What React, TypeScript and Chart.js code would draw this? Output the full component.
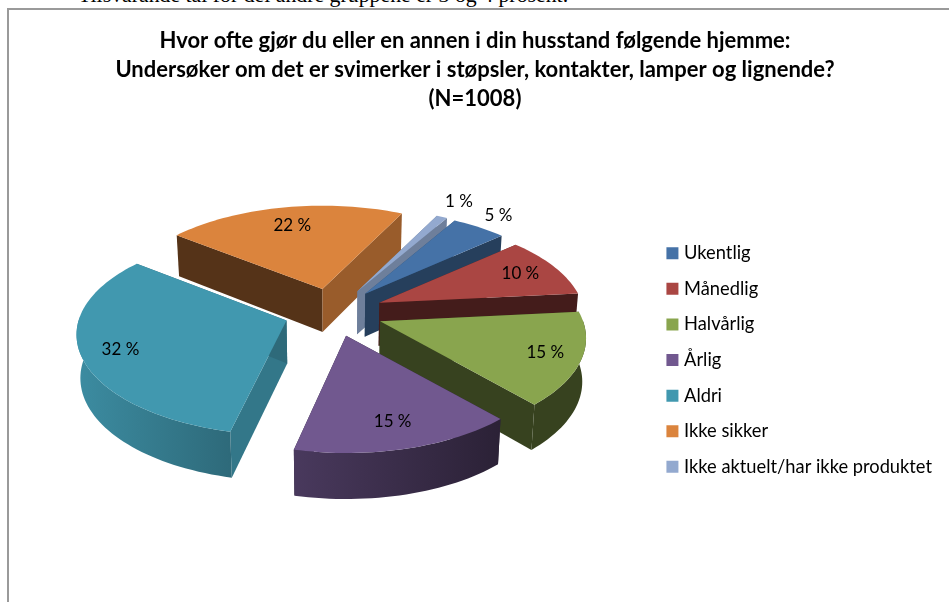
import React, { useEffect, useRef } from "react";
import { Chart, registerables } from "chart.js";

Chart.register(...registerables);

const categories = ["Ukentlig", "Månedlig", "Halvårlig", "Årlig", "Aldri", "Ikke sikker", "Ikke aktuelt/har ikke produktet"];
const shares = [5, 10, 15, 15, 32, 22, 1];
const sliceColors = ["#4572A7", "#AA4643", "#89A54E", "#71588F", "#4198AF", "#DB843D", "#93A9CF"];
const titleLines = [
  "Hvor ofte gjør du eller en annen i din husstand følgende hjemme:",
  "Undersøker om det er svimerker i støpsler, kontakter, lamper og lignende?",
  "(N=1008)",
];
const noteAbove = "Tilsvarande tal for dei andre gruppene er 3 og 4 prosent.";

// Styling of the 3D look (not data)
const startWallShade = [0.7, 0.5, 0.4, 0.4, 0.78, 0.39, 0.75];
const endWallShade = [0.55, 0.4, 0.4, 0.4, 0.7, 0.7, 0.75];
const rimShadeLeft = [0.5, 0.4, 0.4, 0.65, 0.92, 0.5, 0.7];
const rimShadeRight = [0.5, 0.4, 0.4, 0.38, 0.7, 0.5, 0.7];
const labelReach = [1.17, 0.81, 0.82, 0.76, 0.82, 0.78, 1.2];
const rimNudgeX = [0, 0, 0, 0, -4, 0, 0];
const rimNudgeY = [0, 0, 0, 0, -3, 0, 0];
const paintOrder = [5, 6, 0, 1, 4, 2, 3];

const CANVAS_X = 8;
const CANVAS_Y = 9;
const VIEW = { cx: 333.5 - CANVAS_X, cy: 312.4 - CANVAS_Y, radius: 203, squash: 0.48, perspective: 0.17, explode: 50, height: 43, heightGrow: 3, shrink: 0.985 };

type Pt = { x: number; y: number };

const shade = (hex: string, f: number) => {
  const n = parseInt(hex.slice(1), 16);
  const c = [(n >> 16) & 255, (n >> 8) & 255, n & 255].map((v) => Math.round(v * f));
  return `rgb(${c[0]},${c[1]},${c[2]})`;
};

const apexOf = (mid: number): Pt => ({
  x: VIEW.cx + VIEW.explode * Math.cos(mid),
  y: VIEW.cy + VIEW.explode * VIEW.squash * Math.sin(mid),
});

const rimOf = (apex: Pt, a: number, reach = 1): Pt => {
  const s = 1 / (1 - VIEW.perspective * Math.sin(a));
  return {
    x: apex.x + reach * VIEW.radius * Math.cos(a) * s,
    y: apex.y + reach * VIEW.radius * VIEW.squash * Math.sin(a) * s,
  };
};

const down = (p: Pt, a: number): Pt => ({
  x: VIEW.cx + (p.x - VIEW.cx) * VIEW.shrink,
  y: p.y + VIEW.height + VIEW.heightGrow * Math.sin(a),
});

const fillPoly = (ctx: CanvasRenderingContext2D, pts: Pt[], fill: string | CanvasGradient) => {
  ctx.beginPath();
  pts.forEach((p, i) => (i ? ctx.lineTo(p.x, p.y) : ctx.moveTo(p.x, p.y)));
  ctx.closePath();
  ctx.fillStyle = fill;
  ctx.fill();
};

const pie3d = {
  id: "pie3d",
  beforeDatasetDraw(chart: any) {
    const ctx: CanvasRenderingContext2D = chart.ctx;
    const arcs = chart.getDatasetMeta(0).data;
    ctx.save();
    paintOrder.forEach((i) => {
      const arc = arcs[i];
      const a0: number = arc.startAngle;
      const a1: number = arc.endAngle;
      const apex = apexOf((a0 + a1) / 2);
      const steps = Math.max(2, Math.ceil((a1 - a0) / 0.03));
      const angles = Array.from({ length: steps + 1 }, (_, k) => a0 + ((a1 - a0) * k) / steps);
      const rim = angles.map((a) => {
        const p = rimOf(apex, a);
        return { x: p.x + rimNudgeX[i], y: p.y + rimNudgeY[i] };
      });
      const rimDown = rim.map((p, k) => down(p, angles[k]));
      const color = arc.options.backgroundColor as string;
      const apexDown = down(apex, 0);

      fillPoly(ctx, [apex, rim[0], rimDown[0], apexDown], shade(color, startWallShade[i]));
      fillPoly(ctx, [apex, rim[steps], rimDown[steps], apexDown], shade(color, endWallShade[i]));

      // only the part of the rim that faces the viewer
      const front = angles.map((a) => Math.sin(a) >= -0.02);
      const rimF = rim.filter((_, k) => front[k]);
      const rimDownF = rimDown.filter((_, k) => front[k]);
      if (rimF.length > 1) {
        const xs = rimF.map((p) => p.x);
        const grad = ctx.createLinearGradient(Math.min(...xs), 0, Math.max(...xs) + 0.01, 0);
        grad.addColorStop(0, shade(color, rimShadeLeft[i]));
        grad.addColorStop(1, shade(color, rimShadeRight[i]));
        fillPoly(ctx, [...rimF, ...[...rimDownF].reverse()], grad);
      }

      fillPoly(ctx, [apex, ...rim], color);
    });
    ctx.restore();
    return false;
  },
  afterDatasetsDraw(chart: any) {
    const ctx: CanvasRenderingContext2D = chart.ctx;
    const arcs = chart.getDatasetMeta(0).data;
    ctx.save();
    ctx.font = "17px Lato";
    ctx.fillStyle = "#000";
    ctx.textAlign = "center";
    ctx.textBaseline = "middle";
    arcs.forEach((arc: any, i: number) => {
      const mid = (arc.startAngle + arc.endAngle) / 2;
      const p = rimOf(apexOf(mid), mid, labelReach[i]);
      ctx.fillText(`${shares[i]} %`, p.x, p.y);
    });
    ctx.restore();
  },
};

export default function App() {
  const ref = useRef<HTMLCanvasElement>(null);
  useEffect(() => {
    if (!ref.current) return;
    const chart = new Chart(ref.current, {
      type: "pie",
      data: {
        labels: categories,
        datasets: [{ data: shares, backgroundColor: sliceColors, borderWidth: 0 }],
      },
      options: {
        animation: false,
        responsive: false,
        rotation: 30.4,
        layout: { padding: { right: 7, bottom: 2 } },
        plugins: {
          tooltip: { enabled: false },
          title: {
            display: true,
            text: titleLines,
            color: "#000",
            font: { family: "Lato", size: 22, weight: "bold", lineHeight: 1.32 },
            padding: { top: 17.5, bottom: 6.5 },
          },
          legend: {
            position: "right",
            fullSize: false,
            labels: {
              color: "#000",
              font: { family: "Lato", size: 18.3 },
              padding: 17.3,
              boxWidth: 5,
              boxHeight: 5,
              generateLabels: () =>
                categories.map((text, i) => ({
                  text,
                  fillStyle: sliceColors[i],
                  strokeStyle: sliceColors[i],
                  lineWidth: 7,
                  hidden: false,
                  index: i,
                })),
            },
          },
        },
      },
      plugins: [pie3d],
    } as any);
    return () => chart.destroy();
  }, []);

  return (
    <div style={{ position: "absolute", left: 0, top: 0, width: 949, height: 602, overflow: "hidden", background: "#fff" }}>
      <div style={{ position: "absolute", left: 78, top: -17, font: "21.8px 'Liberation Serif'", lineHeight: "24px", whiteSpace: "nowrap", color: "#000" }}>
        {noteAbove}
      </div>
      <div style={{ position: "absolute", left: 7, top: 8, width: 960, height: 620, border: "2px solid #9a9a9a", background: "#fff" }} />
      <canvas ref={ref} width={941} height={593} style={{ position: "absolute", left: CANVAS_X, top: CANVAS_Y, width: 941, height: 593, display: "block" }} />
    </div>
  );
}
